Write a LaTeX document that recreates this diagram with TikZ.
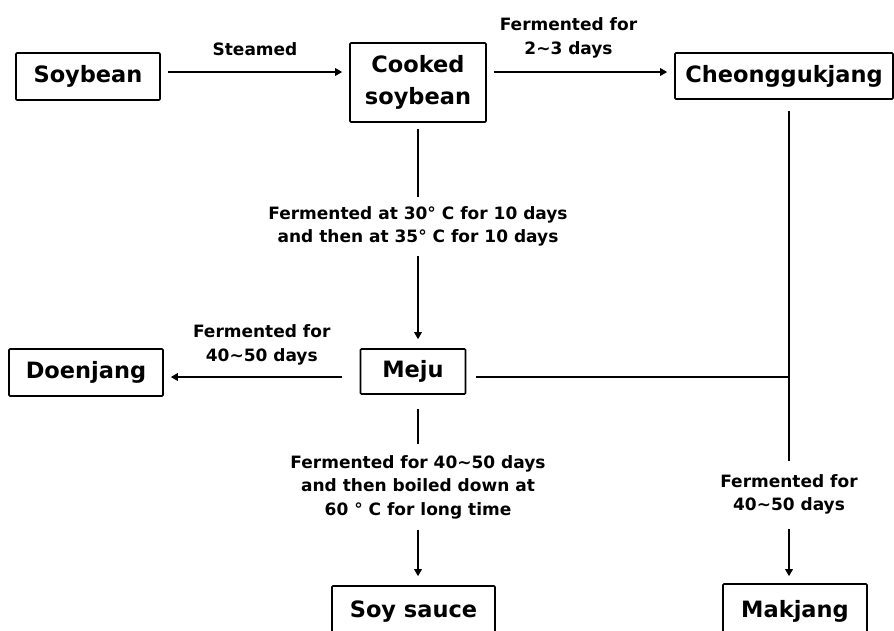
\documentclass[tikz,border=0pt]{standalone}
\usepackage{fontspec}
\setmainfont{DejaVu Sans}
\usetikzlibrary{arrows.meta}
\newcommand{\tld}{\textasciitilde}

\begin{document}
\begin{tikzpicture}[x=1pt, y=-1pt,
    stage/.style={draw, line width=1.6pt, rounded corners=1pt, inner sep=0pt, align=center,
      font=\fontsize{22.5}{31.5}\selectfont\bfseries},
    flow/.style={line width=1.6pt, -{Triangle[length=7pt,width=7.5pt]}, shorten <=7pt, shorten >=7pt},
    link/.style={line width=1.6pt},
    note/.style={font=\fontsize{17}{23.5}\selectfont\bfseries, align=center}]
  \clip (0,0) rectangle (894,630);

  \node[stage, minimum width=144pt, minimum height=47pt] (soybean) at (88,76.5) {Soybean};
  \node[stage, minimum width=136pt, minimum height=79pt] (cooked) at (418,82.5) {Cooked\\soybean};
  \node[stage, minimum width=218pt, minimum height=46pt] (cheong) at (784,76) {Cheonggukjang};
  \node[stage, minimum width=105pt, minimum height=45pt] (meju) at (413,371.5) {Meju};
  \node[stage, minimum width=154pt, minimum height=47pt] (doenjang) at (86,372.5) {Doenjang};
  \node[stage, minimum width=163pt, minimum height=52pt] (soysauce) at (413.5,612) {Soy sauce};
  \node[stage, minimum width=144pt, minimum height=54pt] (makjang) at (795,611) {Makjang};

  \coordinate (toprow) at (0,72);
  \coordinate (junction) at (789,377);

  \draw[flow] (soybean.east |- toprow) -- node[note, above=12pt] {Steamed} (cooked.west |- toprow);
  \draw[flow] (cooked.east |- toprow) -- node[note, above=10pt, xshift=-12pt] {Fermented for\\2\tld3 days} (cheong.west |- toprow);

  \draw[flow, shorten <=6pt, shorten >=9pt] (cooked.south) -- node[note, pos=0.46, fill=white, inner xsep=4pt, inner ysep=9pt]
    {Fermented at 30° C for 10 days\\and then at 35° C for 10 days} (cooked.south |- meju.north);

  \draw[flow, shorten <=18pt] (meju.west |- junction) -- node[note, above=8pt] {Fermented for\\40\tld50 days} (doenjang.east |- junction);
  \draw[link, shorten <=10pt] (meju.east |- junction) -- (junction);
  \draw[link, shorten <=11pt] (cheong.south -| junction) -- (junction);

  \draw[flow, shorten <=14pt, shorten >=9pt] (meju.south -| cooked.south) -- node[note, pos=0.484, fill=white, inner xsep=4pt, inner ysep=11pt]
    {Fermented for 40\tld50 days\\and then boiled down at\\60 ° C for long time} (soysauce.north -| cooked.south);

  \draw[flow, shorten <=0pt] (junction) -- node[note, pos=0.57, fill=white, inner xsep=4pt, inner ysep=14pt]
    {Fermented for\\40\tld50 days} (makjang.north -| junction);
\end{tikzpicture}
\end{document}
